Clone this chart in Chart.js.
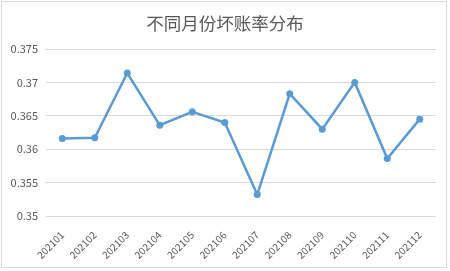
<!DOCTYPE html>
<html>
<head>
<meta charset="utf-8">
<script src="https://cdn.jsdelivr.net/npm/chart.js@4"></script>
<style>
  html, body { margin: 0; padding: 0; background: #fff; }
  #wrap { width: 450px; height: 271px; }
</style>
</head>
<body>
<div id="wrap"><canvas id="myChart" width="450" height="271"></canvas></div>
<script>
// months and bad-debt rates
let months = ['202101', '202102', '202103', '202104', '202105', '202106',
              '202107', '202108', '202109', '202110', '202111', '202112'];
let rates = [0.3616, 0.3617, 0.3714, 0.3636, 0.3656, 0.3640,
             0.3532, 0.3683, 0.3630, 0.3700, 0.3586, 0.3645];

let yMin = 0.35;
let yMax = 0.375;
let yStep = 0.005;

let textGray = '#595959';
let lineBlue = '#5B9BD5';
let gridGray = '#d9d9d9';
let fontName = '"Noto Sans CJK SC", "Noto Sans", sans-serif';

// light frame around the whole chart, like the office chart box
const frame = {
  id: 'frame',
  beforeDraw(chart) {
    const ctx = chart.ctx;
    ctx.save();
    ctx.fillStyle = '#fff';
    ctx.fillRect(0, 0, chart.width, chart.height);
    ctx.strokeStyle = '#d9d9d9';
    ctx.lineWidth = 1;
    ctx.strokeRect(1.5, 1.5, 445, 266);
    ctx.restore();
  }
};

const myChart = new Chart(document.getElementById('myChart'), {
  type: 'line',
  data: {
    labels: months,
    datasets: [{
      label: '坏账率',
      data: rates,
      borderColor: lineBlue,
      backgroundColor: lineBlue,
      borderWidth: 2.5,
      pointRadius: 3.5,
      pointBorderWidth: 0,
      tension: 0,
      fill: false
    }]
  },
  options: {
    responsive: false,
    animation: false,
    // equal side padding keeps the title centred on the whole box
    layout: { padding: { left: 7, right: 7, top: 0, bottom: 0 } },
    plugins: {
      legend: { display: false },
      tooltip: { enabled: false },
      title: {
        display: true,
        text: '不同月份坏账率分布',
        color: textGray,
        font: { family: fontName, size: 17.5, weight: 'normal' },
        padding: { top: 13, bottom: 15 }
      }
    },
    scales: {
      x: {
        offset: true,
        grid: { display: false, drawTicks: false },
        border: { display: false },
        ticks: {
          color: textGray,
          font: { family: fontName, size: 10 },
          minRotation: 45,
          maxRotation: 45,
          autoSkip: false,
          padding: 13
        },
        afterFit(scale) { scale.height = 55; }
      },
      y: {
        min: yMin,
        max: yMax,
        grid: { color: gridGray, drawTicks: false },
        border: { display: false },
        ticks: {
          stepSize: yStep,
          color: textGray,
          font: { family: fontName, size: 11 },
          padding: 8,
          callback: v => String(+v.toFixed(3))
        },
        afterFit(scale) { scale.width = 39; }
      },
      // empty right axis, only there to leave the gap on the right
      yRight: {
        position: 'right',
        grid: { display: false, drawTicks: false },
        border: { display: false },
        ticks: { display: false },
        afterFit(scale) { scale.width = 7; }
      }
    }
  },
  plugins: [frame]
});
</script>
</body>
</html>
